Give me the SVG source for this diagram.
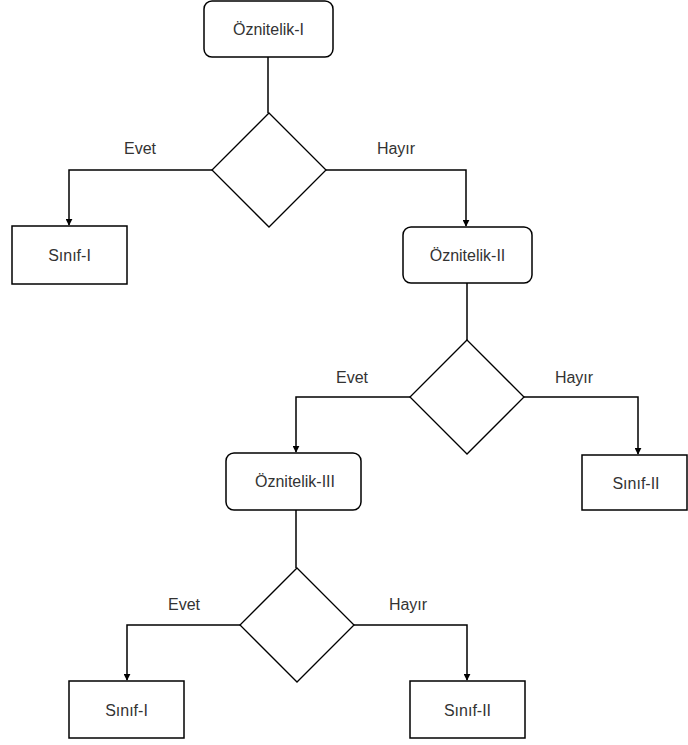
<svg xmlns="http://www.w3.org/2000/svg" width="688" height="745" viewBox="0 0 688 745">
  <defs>
    <marker id="arrow" viewBox="0 0 10 10" refX="9" refY="5" markerWidth="7" markerHeight="7" orient="auto" markerUnits="userSpaceOnUse">
      <path d="M0,0 L10,5 L0,10 Z" fill="#000"/>
    </marker>
    <style>
      .box { fill: #fff; stroke: #000; stroke-width: 1.5; }
      .dia { fill: #fff; stroke: #000; stroke-width: 1.3; }
      .edge { fill: none; stroke: #000; stroke-width: 1.5; }
      .lbl { font-family: "Liberation Sans", Arial, sans-serif; font-size: 16px; fill: #333; text-anchor: middle; dominant-baseline: central; }
    </style>
  </defs>
  <rect width="688" height="745" fill="#fff"/>

  <!-- connectors -->
  <g id="connectors">
    <path class="edge" d="M268,57 V113"/>
    <path class="edge" d="M212,170 H69 V225" marker-end="url(#arrow)"/>
    <path class="edge" d="M326,170 H466 V226" marker-end="url(#arrow)"/>
    <path class="edge" d="M467,283 V340"/>
    <path class="edge" d="M411,397 H296 V452" marker-end="url(#arrow)"/>
    <path class="edge" d="M524,397 H638 V454" marker-end="url(#arrow)"/>
    <path class="edge" d="M296,510 V568"/>
    <path class="edge" d="M240,625 H127 V680" marker-end="url(#arrow)"/>
    <path class="edge" d="M354,625 H467 V680" marker-end="url(#arrow)"/>
    <text class="lbl" x="140" y="148">Evet</text>
    <text class="lbl" x="396" y="148">Hayır</text>
    <text class="lbl" x="352" y="377">Evet</text>
    <text class="lbl" x="574" y="377">Hayır</text>
    <text class="lbl" x="184" y="604">Evet</text>
    <text class="lbl" x="408" y="604">Hayır</text>
  </g>

  <g id="oz1">
    <rect class="box" x="204" y="1" width="129" height="56" rx="8"/>
    <text class="lbl" x="268.5" y="29">Öznitelik-I</text>
  </g>
  <g id="d1">
    <path class="dia" d="M269,113 L326,170 L269,227 L212,170 Z"/>
  </g>
  <g id="sinif1a">
    <rect class="box" x="12" y="226" width="115" height="58"/>
    <text class="lbl" x="69.5" y="255">Sınıf-I</text>
  </g>
  <g id="oz2">
    <rect class="box" x="403" y="227" width="129" height="56" rx="8"/>
    <text class="lbl" x="467.5" y="255">Öznitelik-II</text>
  </g>
  <g id="d2">
    <path class="dia" d="M467,340 L524,397 L467,454 L410,397 Z"/>
  </g>
  <g id="sinif2a">
    <rect class="box" x="582" y="455" width="105" height="55"/>
    <text class="lbl" x="636" y="483">Sınıf-II</text>
  </g>
  <g id="oz3">
    <rect class="box" x="226" y="453" width="135" height="57" rx="8"/>
    <text class="lbl" x="295" y="481">Öznitelik-III</text>
  </g>
  <g id="d3">
    <path class="dia" d="M297,568 L354,625 L297,682 L240,625 Z"/>
  </g>
  <g id="sinif1b">
    <rect class="box" x="69" y="681" width="115" height="57"/>
    <text class="lbl" x="126.5" y="710">Sınıf-I</text>
  </g>
  <g id="sinif2b">
    <rect class="box" x="410" y="681" width="115" height="57"/>
    <text class="lbl" x="467.5" y="710">Sınıf-II</text>
  </g>
</svg>
